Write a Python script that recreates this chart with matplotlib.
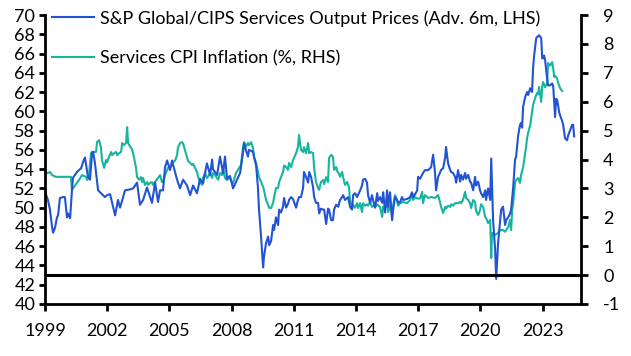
import matplotlib
matplotlib.use("Agg")
import matplotlib.pyplot as plt
import numpy as np

# ---- Data: S&P Global/CIPS Services Output Prices (advanced 6m, LHS) ----
pmi_t = [1999.00, 1999.14, 1999.24, 1999.34, 1999.39, 1999.48, 1999.58, 1999.63, 1999.72, 1999.87,
         1999.96, 2000.06, 2000.11, 2000.21, 2000.30, 2000.35, 2000.54, 2000.74, 2000.88, 2000.93,
         2001.07, 2001.17, 2001.27, 2001.32, 2001.41, 2001.56, 2001.80, 2001.89, 2001.99, 2002.14,
         2002.38, 2002.52, 2002.62, 2002.86, 2003.10, 2003.25, 2003.44, 2003.58, 2003.73, 2003.92,
         2004.07, 2004.16, 2004.31, 2004.45, 2004.55, 2004.69, 2004.79, 2004.89, 2005.03, 2005.13,
         2005.17, 2005.37, 2005.51, 2005.66, 2005.85, 2006.00, 2006.14, 2006.33, 2006.48, 2006.62,
         2006.81, 2006.96, 2007.06, 2007.10, 2007.30, 2007.44, 2007.59, 2007.68, 2007.78, 2007.92,
         2008.07, 2008.26, 2008.41, 2008.55, 2008.60, 2008.70, 2008.79, 2008.84, 2009.03, 2009.08,
         2009.18, 2009.27, 2009.32, 2009.42, 2009.52, 2009.56, 2009.66, 2009.76, 2009.81, 2009.90,
         2010.00, 2010.05, 2010.14, 2010.24, 2010.29, 2010.38, 2010.48, 2010.53, 2010.63, 2010.72,
         2010.77, 2010.87, 2010.96, 2011.01, 2011.11, 2011.20, 2011.25, 2011.35, 2011.45, 2011.49,
         2011.59, 2011.69, 2011.74, 2011.83, 2011.93, 2011.98, 2012.07, 2012.17, 2012.22, 2012.31,
         2012.41, 2012.46, 2012.56, 2012.65, 2012.70, 2012.80, 2012.89, 2012.94, 2013.04, 2013.14,
         2013.23, 2013.33, 2013.38, 2013.47, 2013.57, 2013.62, 2013.71, 2013.81, 2013.86, 2013.95,
         2014.05, 2014.20, 2014.29, 2014.34, 2014.44, 2014.53, 2014.58, 2014.68, 2014.77, 2014.82,
         2014.92, 2015.02, 2015.06, 2015.16, 2015.26, 2015.31, 2015.40, 2015.50, 2015.55, 2015.64,
         2015.74, 2015.79, 2015.88, 2015.98, 2016.03, 2016.13, 2016.22, 2016.27, 2016.46, 2016.61,
         2016.70, 2016.75, 2016.85, 2016.95, 2016.99, 2017.09, 2017.23, 2017.33, 2017.48, 2017.62,
         2017.72, 2017.81, 2017.86, 2017.96, 2018.10, 2018.20, 2018.30, 2018.34, 2018.44, 2018.54,
         2018.59, 2018.68, 2018.78, 2018.83, 2018.92, 2019.02, 2019.07, 2019.16, 2019.26, 2019.31,
         2019.41, 2019.50, 2019.55, 2019.65, 2019.74, 2019.79, 2019.89, 2019.98, 2020.03, 2020.13,
         2020.23, 2020.27, 2020.37, 2020.47, 2020.52, 2020.61, 2020.71, 2020.76, 2020.85, 2020.95,
         2021.00, 2021.09, 2021.19, 2021.24, 2021.34, 2021.43, 2021.48, 2021.58, 2021.67, 2021.72,
         2021.82, 2021.91, 2021.96, 2022.01, 2022.06, 2022.16, 2022.25, 2022.30, 2022.40, 2022.49,
         2022.54, 2022.59, 2022.69, 2022.73, 2022.83, 2022.93, 2022.98, 2023.02, 2023.07, 2023.12,
         2023.22, 2023.26, 2023.36, 2023.46, 2023.51, 2023.60, 2023.65, 2023.70, 2023.80, 2023.84,
         2023.94, 2023.99, 2024.08, 2024.18, 2024.23, 2024.32, 2024.42, 2024.47, 2024.52]
pmi_v = [51.7, 50.8, 49.8, 48.0, 47.4, 47.9, 49.0, 49.2, 51.0, 51.1,
         51.1, 49.0, 49.4, 48.9, 51.8, 53.1, 53.7, 54.1, 55.0, 55.2,
         53.2, 52.9, 55.7, 55.8, 54.6, 51.8, 51.3, 51.1, 51.3, 51.4,
         49.2, 50.8, 50.0, 51.8, 51.9, 52.0, 52.6, 50.3, 50.8, 52.1,
         51.1, 50.5, 52.6, 50.6, 51.8, 51.8, 54.2, 54.9, 53.9, 54.9,
         54.5, 52.9, 52.0, 52.9, 52.3, 51.3, 52.3, 51.5, 53.0, 52.5,
         54.6, 53.4, 55.0, 54.0, 53.4, 55.3, 53.6, 55.3, 53.0, 53.3,
         52.0, 52.9, 53.6, 55.7, 56.7, 55.9, 55.3, 56.0, 55.8, 55.3,
         54.4, 52.1, 49.8, 47.0, 43.8, 44.9, 46.3, 47.0, 46.1, 46.5,
         48.2, 47.7, 49.0, 48.2, 49.8, 49.5, 50.1, 51.0, 50.0, 50.4,
         50.8, 51.1, 50.9, 50.6, 50.0, 50.8, 51.1, 51.1, 52.1, 53.7,
         53.2, 52.6, 53.7, 53.2, 52.1, 51.1, 50.5, 50.5, 49.4, 49.9,
         49.8, 49.8, 48.3, 49.9, 49.8, 48.7, 48.7, 49.8, 50.3, 50.1,
         50.8, 51.1, 51.3, 50.8, 51.0, 51.1, 50.1, 49.8, 51.3, 51.5,
         51.1, 51.8, 52.3, 52.9, 53.0, 52.6, 51.3, 50.5, 51.3, 50.8,
         50.0, 51.5, 50.7, 51.1, 50.5, 51.6, 49.5, 51.8, 50.1, 51.6,
         48.7, 49.8, 51.1, 50.8, 50.5, 50.6, 51.1, 50.8, 50.9, 51.1,
         51.6, 51.1, 51.4, 51.8, 53.2, 53.0, 53.6, 53.9, 53.9, 54.2,
         55.5, 53.6, 51.8, 53.2, 53.9, 54.1, 55.2, 56.3, 54.6, 53.9,
         53.7, 53.6, 53.2, 52.6, 53.9, 52.7, 53.4, 52.9, 53.6, 53.0,
         53.4, 52.7, 52.6, 51.8, 53.2, 52.3, 52.7, 51.8, 51.5, 51.1,
         51.8, 50.8, 52.0, 50.8, 55.1, 48.7, 45.6, 42.6, 46.3, 48.7,
         49.8, 50.1, 48.2, 48.7, 49.0, 49.4, 49.8, 52.1, 55.0, 55.3,
         57.5, 58.6, 58.8, 58.3, 60.5, 61.5, 62.0, 61.7, 62.4, 62.0,
         64.5, 65.8, 67.6, 67.7, 67.9, 67.6, 65.5, 65.5, 65.8, 65.3,
         63.3, 62.7, 62.7, 62.9, 62.6, 59.4, 61.3, 61.2, 59.9, 59.6,
         59.0, 58.6, 57.2, 57.0, 57.5, 58.0, 58.6, 58.6, 57.4]

# ---- Data: Services CPI inflation (%, RHS) ----
cpi_t = [1999.00, 1999.14, 1999.24, 1999.34, 1999.53, 2000.25, 2000.30, 2000.40, 2000.54, 2000.74,
         2000.78, 2000.98, 2001.03, 2001.12, 2001.22, 2001.27, 2001.46, 2001.51, 2001.61, 2001.70,
         2001.75, 2001.85, 2001.94, 2001.99, 2002.09, 2002.19, 2002.24, 2002.33, 2002.43, 2002.48,
         2002.57, 2002.67, 2002.72, 2002.81, 2002.91, 2002.96, 2003.01, 2003.06, 2003.15, 2003.20,
         2003.30, 2003.39, 2003.44, 2003.54, 2003.63, 2003.68, 2003.73, 2003.82, 2003.92, 2003.97,
         2004.07, 2004.16, 2004.21, 2004.31, 2004.45, 2004.55, 2004.64, 2004.69, 2004.79, 2004.89,
         2004.93, 2005.03, 2005.13, 2005.17, 2005.27, 2005.37, 2005.41, 2005.51, 2005.61, 2005.66,
         2005.75, 2005.85, 2005.90, 2006.00, 2006.09, 2006.14, 2006.24, 2006.33, 2006.38, 2006.48,
         2006.57, 2006.62, 2006.72, 2006.81, 2006.86, 2006.96, 2007.06, 2007.10, 2007.20, 2007.30,
         2007.35, 2007.44, 2007.54, 2007.59, 2007.68, 2007.78, 2007.83, 2007.92, 2008.02, 2008.07,
         2008.21, 2008.36, 2008.45, 2008.55, 2008.60, 2008.70, 2008.79, 2008.84, 2008.94, 2009.03,
         2009.08, 2009.18, 2009.27, 2009.32, 2009.42, 2009.52, 2009.56, 2009.66, 2009.76, 2009.81,
         2009.90, 2010.00, 2010.05, 2010.14, 2010.24, 2010.29, 2010.38, 2010.48, 2010.53, 2010.63,
         2010.72, 2010.77, 2010.87, 2010.96, 2011.01, 2011.11, 2011.20, 2011.25, 2011.30, 2011.35,
         2011.45, 2011.49, 2011.59, 2011.69, 2011.74, 2011.83, 2011.93, 2011.98, 2012.07, 2012.17,
         2012.22, 2012.31, 2012.41, 2012.46, 2012.56, 2012.65, 2012.70, 2012.80, 2012.89, 2012.94,
         2013.04, 2013.09, 2013.18, 2013.23, 2013.33, 2013.42, 2013.47, 2013.57, 2013.66, 2013.71,
         2013.81, 2013.86, 2013.95, 2014.05, 2014.10, 2014.20, 2014.29, 2014.34, 2014.44, 2014.53,
         2014.58, 2014.68, 2014.77, 2014.82, 2014.92, 2015.02, 2015.16, 2015.26, 2015.31, 2015.40,
         2015.50, 2015.55, 2015.64, 2015.74, 2015.79, 2015.88, 2015.98, 2016.03, 2016.13, 2016.27,
         2016.46, 2016.61, 2016.70, 2016.75, 2016.85, 2016.95, 2017.09, 2017.19, 2017.23, 2017.33,
         2017.48, 2017.62, 2017.81, 2017.96, 2018.06, 2018.10, 2018.20, 2018.30, 2018.34, 2018.44,
         2018.54, 2018.59, 2018.68, 2018.78, 2018.92, 2019.02, 2019.07, 2019.16, 2019.26, 2019.31,
         2019.41, 2019.50, 2019.55, 2019.65, 2019.74, 2019.79, 2019.89, 2019.98, 2020.03, 2020.13,
         2020.23, 2020.27, 2020.37, 2020.47, 2020.52, 2020.56, 2020.61, 2020.71, 2020.85, 2020.95,
         2021.09, 2021.19, 2021.24, 2021.34, 2021.43, 2021.48, 2021.53, 2021.58, 2021.67, 2021.72,
         2021.82, 2021.91, 2021.96, 2022.06, 2022.16, 2022.20, 2022.25, 2022.30, 2022.40, 2022.49,
         2022.54, 2022.64, 2022.73, 2022.78, 2022.83, 2022.93, 2022.98, 2023.02, 2023.12, 2023.22,
         2023.26, 2023.36, 2023.46, 2023.51, 2023.56, 2023.60, 2023.70, 2023.75, 2023.84, 2023.94]
cpi_v = [3.57, 3.53, 3.57, 3.46, 3.40, 3.40, 2.95, 3.05, 3.19, 3.40,
         3.46, 3.40, 3.29, 3.46, 4.22, 4.26, 4.26, 4.60, 4.67, 4.40,
         3.98, 3.71, 3.98, 3.90, 4.09, 4.26, 4.15, 4.22, 4.26, 4.15,
         4.22, 4.26, 4.57, 4.50, 4.57, 5.12, 4.57, 4.50, 4.40, 4.35,
         4.05, 3.71, 3.39, 3.30, 3.39, 3.22, 3.36, 3.12, 3.22, 3.12,
         3.19, 3.22, 3.12, 3.22, 3.36, 3.46, 3.22, 3.22, 3.46, 3.64,
         3.71, 3.74, 3.81, 3.91, 3.95, 4.16, 4.40, 4.57, 4.60, 4.55,
         4.33, 4.09, 3.95, 3.88, 3.81, 3.85, 3.71, 3.57, 3.40, 3.22,
         3.12, 3.36, 3.53, 3.36, 3.40, 3.53, 3.36, 3.53, 3.46, 3.36,
         3.30, 3.53, 3.46, 3.70, 3.36, 3.29, 3.36, 3.33, 3.22, 3.18,
         3.53, 3.70, 3.81, 4.43, 4.60, 4.45, 4.57, 4.50, 4.60, 4.40,
         4.09, 3.88, 3.57, 3.40, 3.22, 3.05, 2.95, 2.60, 2.43, 2.33,
         2.32, 2.50, 2.70, 3.01, 3.01, 3.22, 3.39, 3.57, 3.79, 3.74,
         3.64, 3.88, 3.74, 3.98, 4.05, 4.22, 4.43, 4.85, 4.57, 4.33,
         4.26, 4.43, 4.22, 4.57, 4.22, 4.26, 4.22, 3.70, 3.22, 3.01,
         2.95, 3.22, 3.29, 3.15, 3.39, 3.22, 4.05, 4.16, 4.10, 3.64,
         3.74, 3.60, 3.50, 3.40, 3.57, 3.25, 3.12, 3.22, 3.05, 2.60,
         2.36, 2.43, 2.33, 2.49, 2.32, 2.49, 2.18, 2.49, 2.40, 2.45,
         2.40, 2.53, 2.36, 2.40, 2.36, 2.45, 2.36, 2.01, 2.36, 2.32,
         2.45, 2.18, 2.40, 2.08, 2.40, 2.77, 2.60, 2.40, 2.49, 2.53,
         2.49, 2.60, 2.84, 2.60, 2.70, 2.65, 2.65, 2.88, 2.49, 2.77,
         2.67, 2.70, 2.67, 2.77, 2.50, 2.36, 2.15, 2.36, 2.30, 2.40,
         2.36, 2.45, 2.40, 2.49, 2.49, 2.53, 2.49, 2.60, 2.88, 2.67,
         2.60, 2.49, 2.32, 2.60, 2.53, 2.22, 2.08, 2.25, 2.45, 2.36,
         2.01, 1.98, 1.80, 1.91, 0.59, 1.46, 1.46, 1.39, 1.46, 1.56,
         1.56, 1.50, 1.56, 1.66, 1.91, 1.56, 2.25, 2.49, 3.19, 3.29,
         3.36, 3.19, 3.46, 3.74, 4.22, 4.43, 4.74, 4.92, 5.19, 5.64,
         5.89, 6.13, 6.30, 6.25, 6.51, 5.99, 6.51, 6.68, 6.50, 6.65,
         7.34, 7.25, 7.37, 7.15, 6.86, 6.90, 6.80, 6.65, 6.47, 6.37]

x_ticks = [1999, 2002, 2005, 2008, 2011, 2014, 2017, 2020, 2023]
left_ticks = list(range(40, 71, 2))
right_ticks = list(range(-1, 10, 1))

pmi_label = "S&P Global/CIPS Services Output Prices (Adv. 6m, LHS)"
cpi_label = "Services CPI Inflation (%, RHS)"

BLUE = "#2253D2"
TEAL = "#17B49E"

plt.rcParams['font.family'] = ['Lato', 'DejaVu Sans']

W, H = 631, 356
fig = plt.figure(figsize=(W / 100, H / 100), dpi=100)
L, R, T, B = 45, 581, 15, 304
ax = fig.add_axes([L / W, 1 - B / H, (R - L) / W, (B - T) / H])
ax2 = ax.twinx()

ln2, = ax2.plot(cpi_t, cpi_v, color=TEAL, lw=1.5, label=cpi_label)
ln1, = ax.plot(pmi_t, pmi_v, color=BLUE, lw=1.5, label=pmi_label)
ax.set_zorder(ax2.get_zorder() + 1)
ax.patch.set_visible(False)

ax.axhline(43, color="black", lw=2.2, zorder=5)

ax.set_xlim(1999.0, 2024.85)
ax.set_ylim(40, 70)
ax2.set_ylim(-1, 9)
ax.set_xticks(x_ticks)
ax.set_xticklabels([str(t) for t in x_ticks])
ax.set_yticks(left_ticks)
ax2.set_yticks(right_ticks)
ax2.set_yticklabels([str(t) for t in right_ticks])

for a in (ax, ax2):
    a.spines['top'].set_visible(False)
    for s in ('left', 'right', 'bottom'):
        a.spines[s].set_linewidth(2.0)
        a.spines[s].set_color('black')
ax.spines['right'].set_visible(False)
ax2.spines['left'].set_visible(False)
ax2.spines['bottom'].set_visible(False)

ax.tick_params(axis='x', direction='out', length=5, width=2, pad=9, labelsize=13, colors='black')
ax.tick_params(axis='y', direction='out', length=4, width=2, pad=3, labelsize=13)
ax2.tick_params(axis='y', direction='out', length=5, width=2, pad=11, labelsize=13)

leg = fig.legend([ln1, ln2], [pmi_label, cpi_label], loc='upper left',
                 bbox_to_anchor=(52 / W, 1 - 10 / H), frameon=False, fontsize=13,
                 handlelength=2.35, handletextpad=0.3, labelspacing=1.3,
                 borderpad=0, borderaxespad=0)

fig.savefig("out.png", dpi=100)
